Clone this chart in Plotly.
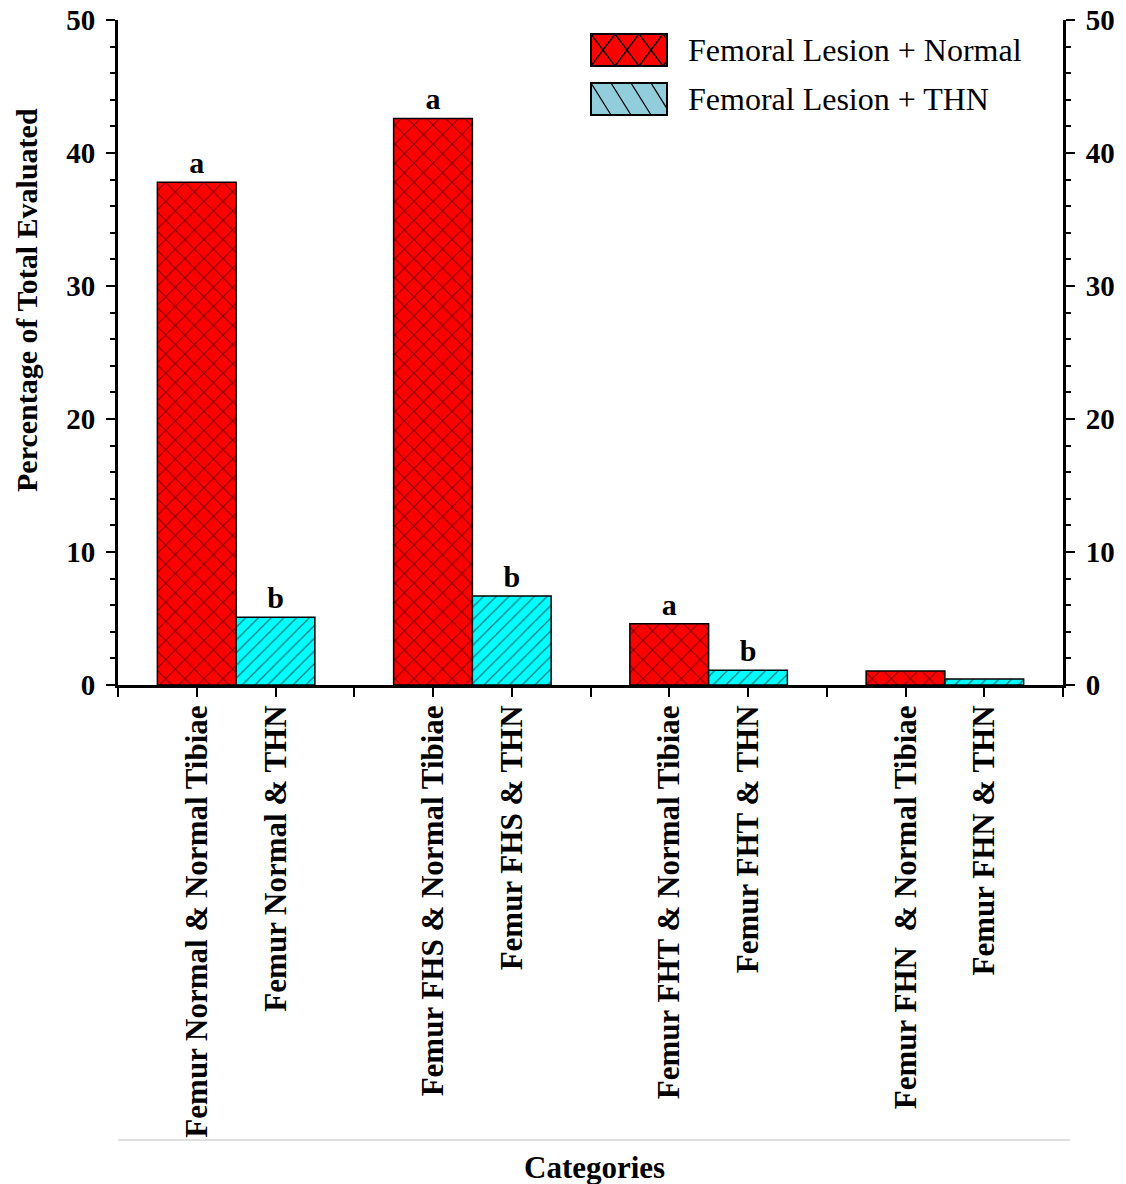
import plotly.graph_objects as go

# ---------------- data ----------------
groups = [0, 1, 2, 3]
normal_vals = [37.8, 42.6, 4.6, 1.05]
thn_vals = [5.1, 6.7, 1.1, 0.45]
normal_letters = ["a", "a", "a", ""]
thn_letters = ["b", "b", "b", ""]
bar_labels = [
    "Femur Normal & Normal Tibiae", "Femur Normal & THN",
    "Femur FHS & Normal Tibiae", "Femur FHS & THN",
    "Femur FHT & Normal Tibiae", "Femur FHT & THN",
    "Femur FHN  & Normal Tibiae", "Femur FHN & THN",
]
series_names = ["Femoral Lesion + Normal", "Femoral Lesion + THN"]
y_ticks = [0, 10, 20, 30, 40, 50]

FONT = "Liberation Serif"
OFF = 8  # page offset of the figure (body margin)
W, H = 1126 - OFF, 1184 - OFF
PLOT_L, PLOT_R, PLOT_T, PLOT_B = 118, 1063, 20, 685  # page pixels
ML, MT = PLOT_L - OFF, PLOT_T - OFF
PW, PH = PLOT_R - PLOT_L, PLOT_B - PLOT_T
MR, MB = W - ML - PW, H - MT - PH

def px(x, y):
    return (x - PLOT_L) / PW, (PLOT_B - y) / PH

fig = go.Figure()
fig.add_trace(go.Bar(
    x=groups, y=normal_vals, name=series_names[0], showlegend=False,
    marker=dict(color="#FF0000", line=dict(color="black", width=1.5),
                pattern=dict(shape="x", size=13.5, solidity=0.15, fgcolor="black")),
    text=normal_letters, textposition="outside", cliponaxis=False,
    textfont=dict(family=FONT, size=30, color="black", weight="bold"),
))
fig.add_trace(go.Bar(
    x=groups, y=thn_vals, name=series_names[1], showlegend=False,
    marker=dict(color="#00FFFF", line=dict(color="black", width=1.5),
                pattern=dict(shape="/", size=9, solidity=0.15, fgcolor="black")),
    text=thn_letters, textposition="outside", cliponaxis=False,
    textfont=dict(family=FONT, size=30, color="black", weight="bold"),
))
# invisible trace so the mirrored right-hand axis is drawn
fig.add_trace(go.Scatter(x=groups, y=normal_vals, yaxis="y2", mode="markers",
                         marker=dict(opacity=0), hoverinfo="skip", showlegend=False))

# tick positions: every third of a group; bar centres get labels
nsteps = 3 * len(groups) + 1
tickvals, ticktext = [], []
li = 0
for k in range(nsteps):
    tickvals.append(groups[0] - 0.5 + k / 3)
    if k % 3 == 0:
        ticktext.append("")
    else:
        ticktext.append(bar_labels[li]); li += 1

axis_font = dict(family=FONT, size=29, color="black", weight="bold")
xtick_font = dict(family=FONT, size=31, color="black", weight="bold")

yax_common = dict(range=[0, 50], tickvals=y_ticks, ticks="outside", ticklen=9,
                  tickwidth=2, tickcolor="black", showline=True, linewidth=3,
                  linecolor="black", showgrid=False, zeroline=False,
                  tickfont=axis_font, ticklabelstandoff=5, automargin=False,
                  ticklabeloverflow="allow",
                  minor=dict(dtick=2, ticks="outside", ticklen=5, tickwidth=2,
                             tickcolor="black", showgrid=False))

fig.update_layout(
    width=W, height=H, margin=dict(l=ML, r=MR, t=MT, b=MB, autoexpand=False),
    paper_bgcolor="white", plot_bgcolor="white",
    barmode="group", bargap=1/3, bargroupgap=0,
    showlegend=False,
    xaxis=dict(range=[groups[0] - 0.5, groups[-1] + 0.5], tickmode="array",
               tickvals=tickvals, ticktext=ticktext, tickangle=-90,
               ticks="outside", ticklen=9, tickwidth=2, tickcolor="black",
               showline=True, linewidth=3, linecolor="black",
               showgrid=False, zeroline=False, tickfont=xtick_font,
               ticklabelstandoff=-4, automargin=False, ticklabeloverflow="allow"),
    yaxis=dict(**yax_common),
    yaxis2=dict(**yax_common, overlaying="y", side="right", anchor="x"),
)

annotations = []
# y axis title
xa, ya = px(26, 300)
annotations.append(dict(text="<b>Percentage of Total Evaluated</b>", textangle=-90,
                        xref="paper", yref="paper", x=xa, y=ya, showarrow=False,
                        xanchor="center", yanchor="middle",
                        font=dict(family=FONT, size=30, color="black")))
# x axis title
xa, ya = px(594, 1167)
annotations.append(dict(text="<b>Categories</b>", xref="paper", yref="paper",
                        x=xa, y=ya, showarrow=False, xanchor="center", yanchor="middle",
                        font=dict(family=FONT, size=31, color="black")))

shapes = []
# faint line above the category title
x0, y0 = px(118, 1140); x1, _ = px(1070, 1140)
shapes.append(dict(type="line", xref="paper", yref="paper", x0=x0, x1=x1, y0=y0, y1=y0,
                   line=dict(color="#e0e0e0", width=2)))

# ---- legend drawn manually (large patterned swatches) ----
def hatch(rx0, ry0, rx1, ry1, spacing, run, down):
    h = ry1 - ry0
    s = rx0 - run
    while s < rx1:
        tmin = max(0.0, (rx0 - s) / run)
        tmax = min(1.0, (rx1 - s) / run)
        if tmax > tmin:
            xa_, xb_ = s + run * tmin, s + run * tmax
            if down:
                ya_, yb_ = ry0 + h * tmin, ry0 + h * tmax
            else:
                ya_, yb_ = ry1 - h * tmin, ry1 - h * tmax
            p0 = px(xa_, ya_); p1 = px(xb_, yb_)
            shapes.append(dict(type="line", xref="paper", yref="paper",
                               x0=p0[0], y0=p0[1], x1=p1[0], y1=p1[1],
                               line=dict(color="black", width=1.3)))
        s += spacing

legend_rows = [
    (series_names[0], "#FF0000", [(24, 24, True), (24, 24, False)], 34),
    (series_names[1], "#92CDDC", [(20, 20, True)], 83),
]
for name, col, fams, top in legend_rows:
    rx0, rx1, ry0, ry1 = 591, 667, top, top + 32
    a0 = px(rx0, ry1); a1 = px(rx1, ry0)
    shapes.append(dict(type="rect", xref="paper", yref="paper", x0=a0[0], y0=a0[1],
                       x1=a1[0], y1=a1[1], fillcolor=col, line=dict(width=0)))
    for sp, run, down in fams:
        hatch(rx0, ry0, rx1, ry1, sp, run, down)
    shapes.append(dict(type="rect", xref="paper", yref="paper", x0=a0[0], y0=a0[1],
                       x1=a1[0], y1=a1[1], line=dict(color="black", width=2)))
    tx, ty = px(686, top + 16)
    annotations.append(dict(text=name, xref="paper", yref="paper", x=tx, y=ty,
                            xanchor="left", yanchor="middle", showarrow=False,
                            font=dict(family=FONT, size=32, color="black")))

fig.update_layout(annotations=annotations, shapes=shapes)
fig.write_html("out.html")
